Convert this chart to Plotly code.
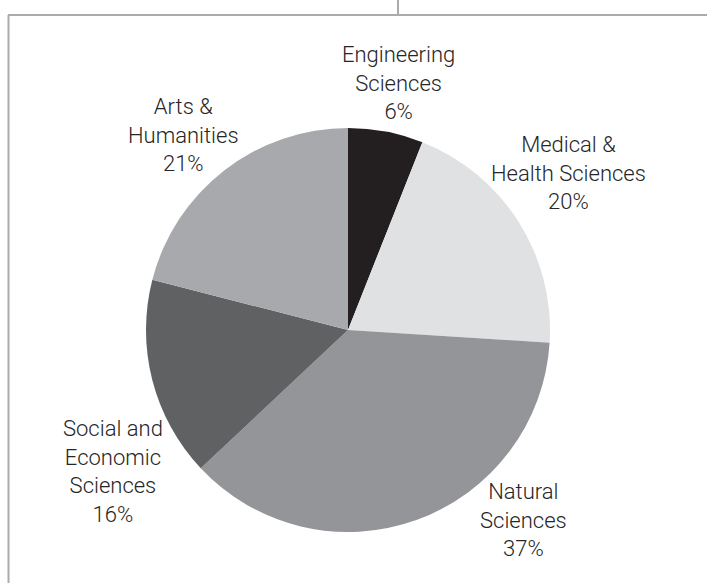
import plotly.graph_objects as go

# Share of research output by field
fields = [
    "Engineering Sciences",
    "Medical & Health Sciences",
    "Natural Sciences",
    "Social and Economic Sciences",
    "Arts & Humanities",
]
shares = [6, 20, 37, 16, 21]
colors = ["#231f20", "#e0e1e3", "#939598", "#606163", "#a7a9ac"]

# Label text, with explicit line breaks, and label centres in pixels (x, y from top)
label_lines = [
    "Engineering<br>Sciences",
    "Medical &<br>Health Sciences",
    "Natural<br>Sciences",
    "Social and<br>Economic<br>Sciences",
    "Arts &<br>Humanities",
]
label_px = [(399, 83), (568, 173), (523, 520), (113, 471), (183, 135)]

W, H = 707, 583
cx, cy, r = 348, 330, 202

fig = go.Figure(
    go.Pie(
        labels=fields,
        values=shares,
        sort=False,
        direction="clockwise",
        rotation=0,
        marker=dict(colors=colors, line=dict(width=0)),
        textinfo="none",
        hoverinfo="label+percent",
        showlegend=False,
        domain=dict(
            x=[(cx - r) / W, (cx + r) / W],
            y=[(H - cy - r) / H, (H - cy + r) / H],
        ),
    )
)

font = dict(family="Roboto, sans-serif", size=22, weight=300, color="#262626")

for text, v, (px, py) in zip(label_lines, shares, label_px):
    fig.add_annotation(
        x=px / W, y=1 - py / H, xref="paper", yref="paper",
        text=f"{text}<br>{v}%", showarrow=False,
        xanchor="center", yanchor="middle", align="center", font=font,
    )

# Frame rules
line = dict(color="#ababab", width=2)
fig.add_shape(type="line", xref="paper", yref="paper",
              x0=8 / W, x1=1, y0=1 - 15 / H, y1=1 - 15 / H, line=line)
fig.add_shape(type="line", xref="paper", yref="paper",
              x0=8.5 / W, x1=8.5 / W, y0=0, y1=1 - 15 / H, line=line)
fig.add_shape(type="line", xref="paper", yref="paper",
              x0=398 / W, x1=398 / W, y0=1 - 15 / H, y1=1, line=line)

fig.update_layout(
    width=W, height=H,
    margin=dict(l=0, r=0, t=0, b=0),
    paper_bgcolor="white", plot_bgcolor="white",
)

fig.write_html("out.html")
